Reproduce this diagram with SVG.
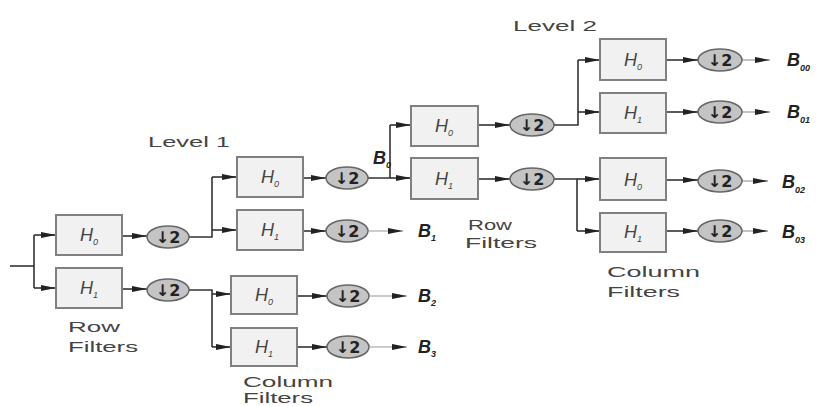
<svg xmlns="http://www.w3.org/2000/svg" width="827" height="406" viewBox="0 0 827 406">
<defs>
<marker id="ah" markerWidth="16" markerHeight="8" refX="15" refY="4" orient="auto" markerUnits="userSpaceOnUse">
<path d="M0,1 L15,4 L0,7 z" fill="#222"/>
</marker>
<style>
.box{fill:#f1f1f1;stroke:#808080;stroke-width:2}
.ds{fill:#c4c4c4;stroke:#666;stroke-width:1.5}
.dt{font-family:"DejaVu Sans",sans-serif;font-size:16px;font-weight:bold;fill:#222;text-anchor:middle}
.ln{fill:none;stroke:#333;stroke-width:1.6}
.ar{fill:none;stroke:#333;stroke-width:1.6;marker-end:url(#ah)}
.ab{fill:none;stroke:#999;stroke-width:1.2;marker-end:url(#ah)}
.h{font-family:"Liberation Sans",Arial,sans-serif;font-style:italic;font-size:18px;fill:#444}
.sub{font-size:9px}
.b{font-family:"Liberation Sans",Arial,sans-serif;font-style:italic;font-weight:bold;font-size:18px;fill:#222}
.lab{font-family:"Liberation Sans",Arial,sans-serif;font-size:15px;fill:#444}
</style>
</defs>

<g id="connectors">
<line class="ln" x1="10" y1="266" x2="34" y2="266"/>
<line class="ln" x1="34" y1="235" x2="34" y2="288"/>
<line class="ar" x1="34" y1="235" x2="56" y2="235"/>
<line class="ar" x1="34" y1="288" x2="56" y2="288"/>
<line class="ar" x1="122" y1="236" x2="147" y2="236"/>
<line class="ar" x1="122" y1="289" x2="147" y2="289"/>
<polyline class="ln" points="189,237 212,237 212,177"/>
<line class="ar" x1="212" y1="177" x2="237" y2="177"/>
<line class="ar" x1="212" y1="230" x2="237" y2="230"/>
<line class="ar" x1="303" y1="178" x2="326" y2="178"/>
<line class="ar" x1="303" y1="231" x2="326" y2="231"/>
<line class="ab" x1="369" y1="231" x2="403" y2="231"/>
<polyline class="ln" points="189,290 212,290 212,347"/>
<line class="ar" x1="212" y1="294" x2="231" y2="294"/>
<line class="ar" x1="212" y1="347" x2="231" y2="347"/>
<line class="ar" x1="297" y1="296" x2="327" y2="296"/>
<line class="ar" x1="297" y1="347" x2="327" y2="347"/>
<line class="ab" x1="370" y1="296" x2="407" y2="296"/>
<line class="ab" x1="370" y1="347" x2="407" y2="347"/>
<polyline class="ln" points="368,178 390,178 390,125"/>
<line class="ar" x1="390" y1="125" x2="411" y2="125"/>
<line class="ar" x1="390" y1="178" x2="411" y2="178"/>
<line class="ar" x1="478" y1="125" x2="510" y2="125"/>
<line class="ar" x1="478" y1="179" x2="510" y2="179"/>
<polyline class="ln" points="554,125 578,125 578,60"/>
<line class="ar" x1="578" y1="60" x2="600" y2="60"/>
<line class="ar" x1="578" y1="112" x2="600" y2="112"/>
<line class="ar" x1="666" y1="60" x2="698" y2="60"/>
<line class="ar" x1="666" y1="112" x2="698" y2="112"/>
<line class="ab" x1="742" y1="60" x2="770" y2="60"/>
<line class="ab" x1="742" y1="112" x2="770" y2="112"/>
<polyline class="ln" points="554,179 577,179 577,231"/>
<line class="ar" x1="577" y1="179" x2="600" y2="179"/>
<line class="ar" x1="577" y1="231" x2="600" y2="231"/>
<line class="ar" x1="666" y1="180" x2="698" y2="180"/>
<line class="ar" x1="666" y1="231" x2="698" y2="231"/>
<line class="ab" x1="742" y1="181" x2="768" y2="181"/>
<line class="ab" x1="742" y1="231" x2="768" y2="231"/>
</g>

<g id="r1-h0"><rect class="box" x="56" y="215" width="66" height="40"/><text class="h" x="80" y="241">H<tspan class="sub" dy="4">0</tspan></text></g>
<g id="r1-h1"><rect class="box" x="56" y="268" width="66" height="40"/><text class="h" x="80" y="294">H<tspan class="sub" dy="4">1</tspan></text></g>
<g id="r1-d0"><ellipse class="ds" cx="168" cy="237" rx="21" ry="11"/><text class="dt" x="168" y="243">↓2</text></g>
<g id="r1-d1"><ellipse class="ds" cx="168" cy="290" rx="21" ry="11"/><text class="dt" x="168" y="296">↓2</text></g>

<g id="c1-h0"><rect class="box" x="237" y="157" width="66" height="40"/><text class="h" x="261" y="183">H<tspan class="sub" dy="4">0</tspan></text></g>
<g id="c1-h1"><rect class="box" x="237" y="210" width="66" height="40"/><text class="h" x="261" y="236">H<tspan class="sub" dy="4">1</tspan></text></g>
<g id="c1-d0"><ellipse class="ds" cx="347" cy="178" rx="21" ry="11"/><text class="dt" x="347" y="184">↓2</text></g>
<g id="c1-d1"><ellipse class="ds" cx="347" cy="231" rx="21" ry="11"/><text class="dt" x="347" y="237">↓2</text></g>

<g id="c2-h0"><rect class="box" x="231" y="276" width="66" height="38"/><text class="h" x="255" y="301">H<tspan class="sub" dy="4">0</tspan></text></g>
<g id="c2-h1"><rect class="box" x="231" y="328" width="66" height="38"/><text class="h" x="255" y="353">H<tspan class="sub" dy="4">1</tspan></text></g>
<g id="c2-d0"><ellipse class="ds" cx="348" cy="296" rx="21" ry="11"/><text class="dt" x="348" y="302">↓2</text></g>
<g id="c2-d1"><ellipse class="ds" cx="348" cy="347" rx="21" ry="11"/><text class="dt" x="348" y="353">↓2</text></g>

<g id="r2-h0"><rect class="box" x="411" y="106" width="67" height="40"/><text class="h" x="435" y="132">H<tspan class="sub" dy="4">0</tspan></text></g>
<g id="r2-h1"><rect class="box" x="411" y="158" width="67" height="41"/><text class="h" x="435" y="185">H<tspan class="sub" dy="4">1</tspan></text></g>
<g id="r2-d0"><ellipse class="ds" cx="532" cy="125" rx="22" ry="11"/><text class="dt" x="532" y="131">↓2</text></g>
<g id="r2-d1"><ellipse class="ds" cx="532" cy="179" rx="22" ry="11"/><text class="dt" x="532" y="185">↓2</text></g>

<g id="c3-h0"><rect class="box" x="600" y="39" width="66" height="41"/><text class="h" x="624" y="66">H<tspan class="sub" dy="4">0</tspan></text></g>
<g id="c3-h1"><rect class="box" x="600" y="93" width="66" height="40"/><text class="h" x="624" y="119">H<tspan class="sub" dy="4">1</tspan></text></g>
<g id="c3-d0"><ellipse class="ds" cx="720" cy="60" rx="22" ry="11"/><text class="dt" x="720" y="66">↓2</text></g>
<g id="c3-d1"><ellipse class="ds" cx="720" cy="112" rx="22" ry="11"/><text class="dt" x="720" y="118">↓2</text></g>

<g id="c4-h0"><rect class="box" x="600" y="158" width="66" height="42"/><text class="h" x="624" y="186">H<tspan class="sub" dy="4">0</tspan></text></g>
<g id="c4-h1"><rect class="box" x="600" y="213" width="66" height="39"/><text class="h" x="624" y="238">H<tspan class="sub" dy="4">1</tspan></text></g>
<g id="c4-d0"><ellipse class="ds" cx="720" cy="181" rx="22" ry="11"/><text class="dt" x="720" y="187">↓2</text></g>
<g id="c4-d1"><ellipse class="ds" cx="720" cy="231" rx="22" ry="11"/><text class="dt" x="720" y="237">↓2</text></g>

<g id="bands">
<text class="b" x="373" y="164">B<tspan class="sub" dy="4">0</tspan></text>
<text class="b" x="418" y="237">B<tspan class="sub" dy="4">1</tspan></text>
<text class="b" x="418" y="302">B<tspan class="sub" dy="4">2</tspan></text>
<text class="b" x="418" y="353">B<tspan class="sub" dy="4">3</tspan></text>
<text class="b" x="787" y="66">B<tspan class="sub" dy="5">00</tspan></text>
<text class="b" x="787" y="118">B<tspan class="sub" dy="5">01</tspan></text>
<text class="b" x="782" y="188">B<tspan class="sub" dy="5">02</tspan></text>
<text class="b" x="782" y="238">B<tspan class="sub" dy="5">03</tspan></text>
</g>

<g id="labels">
<text class="lab" x="148" y="147" textLength="82" lengthAdjust="spacingAndGlyphs">Level 1</text>
<text class="lab" x="513" y="31" textLength="84" lengthAdjust="spacingAndGlyphs">Level 2</text>
<text class="lab" x="68" y="332" font-size="16" textLength="52" lengthAdjust="spacingAndGlyphs">Row</text>
<text class="lab" x="68" y="352" font-size="16" textLength="70" lengthAdjust="spacingAndGlyphs">Filters</text>
<text class="lab" x="243" y="387" font-size="16" textLength="90" lengthAdjust="spacingAndGlyphs">Column</text>
<text class="lab" x="243" y="403" font-size="16" textLength="70" lengthAdjust="spacingAndGlyphs">Filters</text>
<text class="lab" x="468" y="230" font-size="16" textLength="44" lengthAdjust="spacingAndGlyphs">Row</text>
<text class="lab" x="465" y="248" font-size="16" textLength="72" lengthAdjust="spacingAndGlyphs">Filters</text>
<text class="lab" x="607" y="277" font-size="16" textLength="93" lengthAdjust="spacingAndGlyphs">Column</text>
<text class="lab" x="607" y="297" font-size="16" textLength="73" lengthAdjust="spacingAndGlyphs">Filters</text>
</g>
</svg>
